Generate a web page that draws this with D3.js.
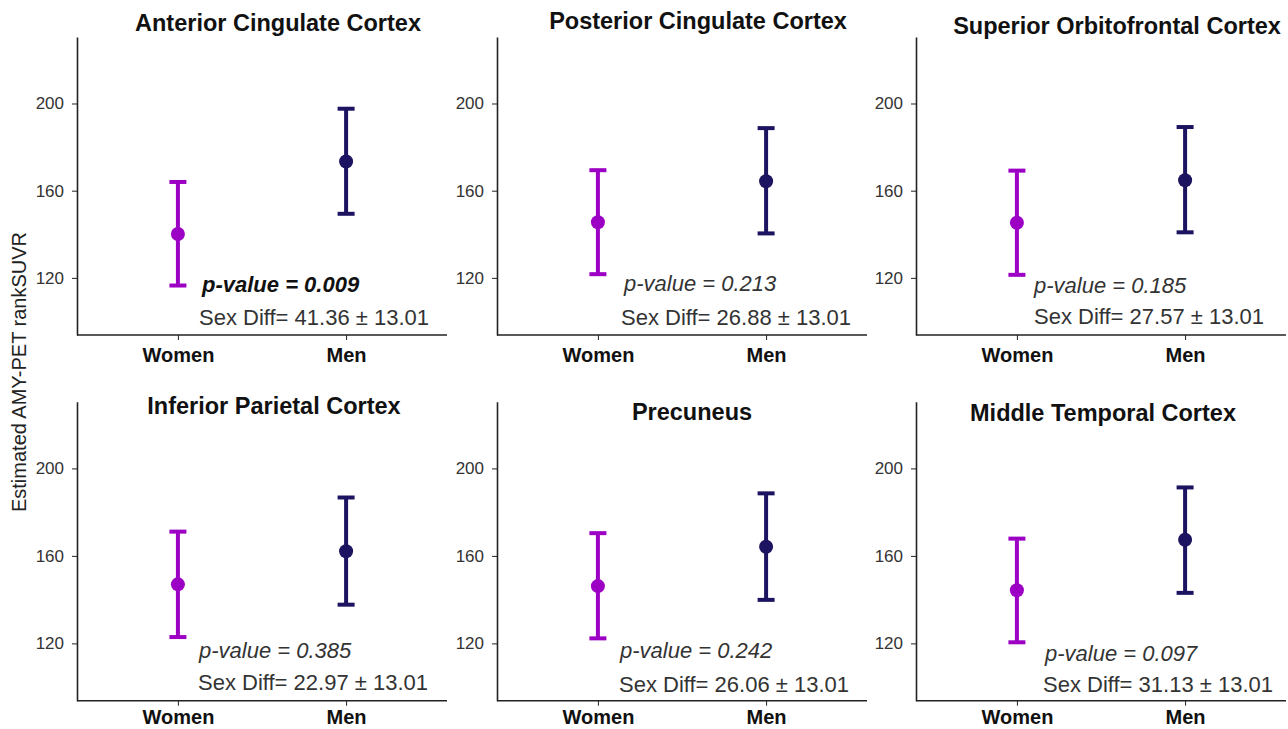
<!DOCTYPE html>
<html>
<head>
<meta charset="utf-8">
<script src="https://cdn.jsdelivr.net/npm/d3@7"></script>
<style>
  body { margin: 0; background: #fff; }
  svg { display: block; }
  .axis path, .axis line { stroke: #222; }
  .axis text { fill: #333; font-family: "Liberation Sans", Arial, sans-serif; }
</style>
</head>
<body>
<script>
// values
var regions = ["Anterior Cingulate Cortex", "Posterior Cingulate Cortex", "Superior Orbitofrontal Cortex",
               "Inferior Parietal Cortex", "Precuneus", "Middle Temporal Cortex"];
var groups = ["Women", "Men"];
var womenMean = [140.1, 145.5, 145.3, 147.0, 146.2, 144.3];
var womenLow  = [116.5, 121.7, 121.4, 122.9, 122.3, 120.5];
var womenHigh = [164.0, 169.4, 169.2, 171.1, 170.4, 167.9];
var menMean = [173.4, 164.3, 164.8, 162.1, 164.2, 167.4];
var menLow  = [149.4, 140.4, 140.9, 137.7, 139.9, 143.1];
var menHigh = [197.6, 188.7, 189.2, 186.7, 188.6, 191.3];
var pValues = ["0.009", "0.213", "0.185", "0.385", "0.242", "0.097"];
var sexDiff = ["41.36", "26.88", "27.57", "22.97", "26.06", "31.13"];
var sexDiffSE = "13.01";
var yTicks = [120, 160, 200];
var yDomain = [93.8, 230.5];

var colors = {Women: "#9c00c4", Men: "#1c1460"};

// panel placement (pixels)
var layout = [
  {left: 77,  top: 37,    bottom: 335,   labY: 27, titleX: 278,  titleY: 31,  px: 125, py: 292, sx: 122, sy: 325},
  {left: 497, top: 37,    bottom: 335,   labY: 27, titleX: 698,  titleY: 29,  px: 127, py: 291, sx: 124, sy: 325},
  {left: 916, top: 37,    bottom: 335,   labY: 27, titleX: 1117, titleY: 34,  px: 118, py: 293, sx: 118, sy: 324},
  {left: 77,  top: 401.7, bottom: 700.7, labY: 23, titleX: 274,  titleY: 414, px: 122, py: 658, sx: 121, sy: 690},
  {left: 497, top: 401.7, bottom: 700.7, labY: 23, titleX: 692,  titleY: 420, px: 123, py: 658, sx: 122, sy: 692},
  {left: 916, top: 401.7, bottom: 700.7, labY: 23, titleX: 1103, titleY: 421, px: 129, py: 661, sx: 127, sy: 692}
];
var panelWidth = 370;
var font = "'Liberation Sans', Arial, sans-serif";

var svg = d3.select("body").append("svg")
  .attr("width", 1288)
  .attr("height", 729);

regions.forEach(function(name, i){
  var L = layout[i];

  var xScale = d3.scalePoint()
    .domain(groups)
    .range([L.left, L.left + panelWidth])
    .padding(0.6);

  var yScale = d3.scaleLinear()
    .domain(yDomain)
    .range([L.bottom, L.top]);

  var g = svg.append("g");

  var yAxis = d3.axisLeft(yScale).tickValues(yTicks).tickSize(5).tickSizeOuter(0).tickPadding(8);
  g.append("g")
    .attr("class", "axis")
    .attr("transform", "translate(" + L.left + ",0)")
    .call(yAxis)
    .call(function(a){
      a.select(".domain").attr("stroke-width", 1.6);
      a.selectAll("text").style("font-size", "17px");
      a.selectAll(".tick line").attr("stroke", "#444");
    });

  var xAxis = d3.axisBottom(xScale).tickSize(5).tickSizeOuter(0).tickPadding(10);
  g.append("g")
    .attr("class", "axis")
    .attr("transform", "translate(0," + L.bottom + ")")
    .call(xAxis)
    .call(function(a){
      a.select(".domain").attr("stroke-width", 1.6)
        .attr("d", "M" + L.left + ",0H" + (L.left + panelWidth));
      a.selectAll(".tick line").attr("stroke", "#444");
      a.selectAll("text")
        .style("font-size", "20px")
        .style("font-weight", "bold")
        .style("fill", "#111")
        .attr("y", L.labY)
        .attr("dy", null);
    });

  var rows = [
    {grp: "Women", mean: womenMean[i], low: womenLow[i], high: womenHigh[i]},
    {grp: "Men", mean: menMean[i], low: menLow[i], high: menHigh[i]}
  ];

  var bars = g.selectAll(".bar").data(rows).enter().append("g").attr("class", "bar");

  bars.append("line")
    .attr("x1", function(d){ return xScale(d.grp); })
    .attr("x2", function(d){ return xScale(d.grp); })
    .attr("y1", function(d){ return yScale(d.low); })
    .attr("y2", function(d){ return yScale(d.high); })
    .attr("stroke", function(d){ return colors[d.grp]; })
    .attr("stroke-width", 4);

  ["low", "high"].forEach(function(k){
    bars.append("line")
      .attr("x1", function(d){ return xScale(d.grp) - 8.5; })
      .attr("x2", function(d){ return xScale(d.grp) + 8.5; })
      .attr("y1", function(d){ return yScale(d[k]); })
      .attr("y2", function(d){ return yScale(d[k]); })
      .attr("stroke", function(d){ return colors[d.grp]; })
      .attr("stroke-width", 4);
  });

  bars.append("circle")
    .attr("cx", function(d){ return xScale(d.grp); })
    .attr("cy", function(d){ return yScale(d.mean); })
    .attr("r", 7)
    .attr("fill", function(d){ return colors[d.grp]; });

  // title
  svg.append("text")
    .attr("x", L.titleX)
    .attr("y", L.titleY)
    .attr("text-anchor", "middle")
    .style("font-family", font)
    .style("font-weight", "bold")
    .style("font-size", "23.5px")
    .attr("fill", "#111")
    .text(name);

  // annotations
  var sig = +pValues[i] < 0.05;
  svg.append("text")
    .attr("x", L.left + L.px)
    .attr("y", L.py)
    .style("font-family", font)
    .style("font-style", "italic")
    .style("font-weight", sig ? "bold" : "normal")
    .style("font-size", "22px")
    .attr("fill", sig ? "#111" : "#333")
    .text("p-value = " + pValues[i]);

  svg.append("text")
    .attr("x", L.left + L.sx)
    .attr("y", L.sy)
    .style("font-family", font)
    .style("font-size", "22px")
    .attr("fill", "#333")
    .text("Sex Diff= " + sexDiff[i] + " \u00b1 " + sexDiffSE);
});

svg.append("text")
  .attr("transform", "translate(26,372) rotate(-90)")
  .attr("text-anchor", "middle")
  .style("font-family", font)
  .style("font-size", "20px")
  .attr("fill", "#222")
  .text("Estimated AMY-PET rankSUVR");
</script>
</body>
</html>
